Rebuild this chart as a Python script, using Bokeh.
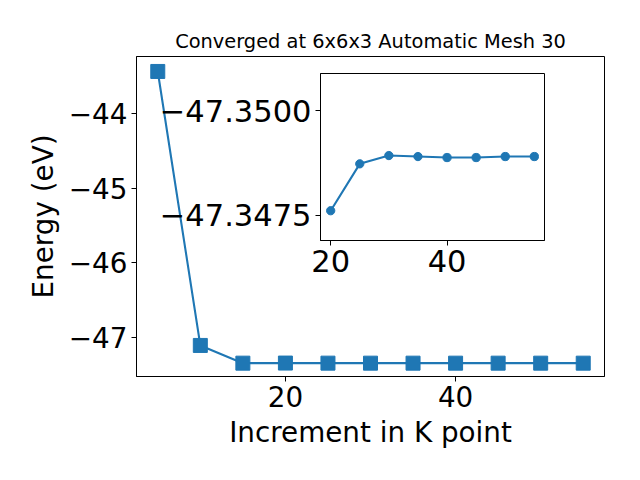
from bokeh.plotting import figure
from bokeh.models import Range1d, FixedTicker, CustomJSTickFormatter
from bokeh.embed import file_html
from bokeh.resources import INLINE

# ---- data ----
kpoints = [5, 10, 15, 20, 25, 30, 35, 40, 45, 50, 55]
energies = [-43.432, -47.111, -47.3489, -47.347605, -47.348731, -47.348930,
            -47.348906, -47.348882, -47.348882, -47.348906, -47.348906]
inset_k = kpoints[3:]
inset_e = energies[3:]

main_xticks = [20, 40]
main_yticks = [-47, -46, -45, -44]
inset_xticks = [20, 40]
inset_yticks = [-47.35, -47.3475]

BLUE = "#1f77b4"
FONT = "DejaVu Sans"

fmt_int = CustomJSTickFormatter(code="""
const s = Math.abs(tick).toFixed(0);
return tick < 0 ? "\u2212" + s : s;
""")
fmt_4 = CustomJSTickFormatter(code="""
const s = Math.abs(tick).toFixed(4);
return tick < 0 ? "\u2212" + s : s;
""")


def style_axes(fig, size):
    for ax in (fig.xaxis, fig.yaxis):
        ax.major_label_text_font = FONT
        ax.major_label_text_font_size = size
        ax.major_label_text_color = "black"
        ax.major_tick_out = 5
        ax.major_tick_in = 0
        ax.minor_tick_out = 0
        ax.minor_tick_in = 0
        ax.axis_line_color = "black"
        ax.major_tick_line_color = "black"
        ax.major_label_standoff = 4
    fig.xgrid.visible = False
    fig.ygrid.visible = False
    fig.outline_line_color = "black"
    fig.outline_line_alpha = 1
    fig.outline_line_width = 1


p = figure(width=624, height=464, output_backend="svg", toolbar_location=None,
           x_range=Range1d(2.5, 57.5), y_range=Range1d(-47.528, -43.231),
           min_border_left=136, min_border_top=56, min_border_right=20,
           min_border_bottom=88,
           title="Converged at 6x6x3 Automatic Mesh 30")
p.title.align = "center"
p.title.text_font = FONT
p.title.text_font_size = "19.4px"
p.title.text_font_style = "normal"
p.title.text_color = "black"
p.title.standoff = 8
style_axes(p, "27.8px")
p.xaxis.ticker = FixedTicker(ticks=main_xticks)
p.yaxis.ticker = FixedTicker(ticks=main_yticks)
p.xaxis.formatter = fmt_int
p.yaxis.formatter = fmt_int
p.xaxis.axis_label = "Increment in K point"
p.yaxis.axis_label = "Energy (eV)"
for ax in (p.xaxis, p.yaxis):
    ax.axis_label_text_font = FONT
    ax.axis_label_text_font_size = "27.8px"
    ax.axis_label_text_font_style = "normal"
    ax.axis_label_text_color = "black"
    ax.axis_label_standoff = 6

p.line(kpoints, energies, line_color=BLUE, line_width=2.1)
p.scatter(kpoints, energies, marker="square", size=14, fill_color=BLUE,
          line_color=BLUE)

inset = figure(width=399, height=217, output_backend="svg", toolbar_location=None,
               x_range=Range1d(18.25, 56.75),
               y_range=Range1d(-47.34689, -47.3509),
               min_border_left=170, min_border_top=5, min_border_right=5,
               min_border_bottom=45)
style_axes(inset, "30.5px")
inset.border_fill_alpha = 0
inset.background_fill_color = "white"
inset.xaxis.ticker = FixedTicker(ticks=inset_xticks)
inset.yaxis.ticker = FixedTicker(ticks=inset_yticks)
inset.xaxis.formatter = fmt_int
inset.yaxis.formatter = fmt_4
inset.line(inset_k, inset_e, line_color=BLUE, line_width=2.1)
inset.scatter(inset_k, inset_e, marker="circle", size=8.3, fill_color=BLUE,
              line_color=BLUE)
inset.styles = {"position": "absolute", "left": "150px", "top": "68px"}

open("out.html", "w").write(file_html([p, inset], INLINE))
